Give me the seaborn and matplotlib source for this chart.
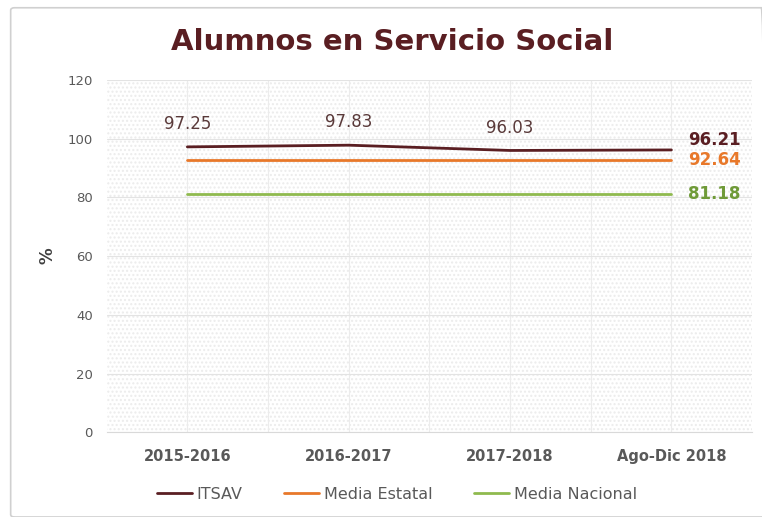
import pandas as pd
import seaborn as sns
import matplotlib.pyplot as plt
from matplotlib.patches import Rectangle, FancyBboxPatch

periodos = ["2015-2016", "2016-2017", "2017-2018", "Ago-Dic 2018"]
itsav = [97.25, 97.83, 96.03, 96.21]
media_estatal = [92.64, 92.64, 92.64, 92.64]
media_nacional = [81.18, 81.18, 81.18, 81.18]

series = ["ITSAV", "Media Estatal", "Media Nacional"]
colores = ["#5a1e22", "#e8782a", "#8fba4e"]
colores_texto = ["#5a1e22", "#e8782a", "#6f9a38"]

df = pd.DataFrame({
    "periodo": periodos * 3,
    "x": list(range(len(periodos))) * 3,
    "valor": itsav + media_estatal + media_nacional,
    "serie": [s for s in series for _ in periodos],
})

sns.set_style("white")
plt.rcParams['font.family'] = ['DejaVu Sans']

fig = plt.figure(figsize=(7.62, 5.17), dpi=100)
ax = fig.add_axes([0.140, 0.164, 0.847, 0.681])

# marco exterior
fig.patches.append(FancyBboxPatch((0.014, 0.0), 0.99, 0.985, boxstyle="round,pad=0,rounding_size=0.005",
                                  transform=fig.transFigure, fill=False, edgecolor="#d0d0d0", lw=1.2))

# fondo punteado
ax.add_patch(Rectangle((-0.5, 0), 4, 120, facecolor="white", hatch="....", edgecolor="#ececec",
                       lw=0, zorder=0))

sns.lineplot(data=df, x="x", y="valor", hue="serie", palette=colores, linewidth=2.0, ax=ax, zorder=3)

ax.set_xlim(-0.5, 3.5)
ax.set_ylim(0, 120)
ax.set_yticks(range(0, 121, 20))
ax.set_xticks(range(len(periodos)))
ax.set_xticklabels(periodos, fontsize=10.5, fontweight="bold", color="#595959")
ax.set_xticks([i + 0.5 for i in range(len(periodos) - 1)], minor=True)
ax.tick_params(axis="y", labelsize=9.5, labelcolor="#595959", length=0, pad=10)
ax.tick_params(axis="x", which="both", length=0, pad=12)
ax.grid(axis="y", color="#e3e3e3", lw=0.8)
ax.grid(axis="x", which="both", color="#ececec", lw=0.8)
ax.set_axisbelow(True)
ax.set_xlabel("")
ax.set_ylabel("%", fontsize=12, fontweight="bold", color="#404040", labelpad=8)
for s in ["top", "right", "left"]:
    ax.spines[s].set_visible(False)
ax.spines["bottom"].set_color("#d9d9d9")

# etiquetas de datos
for i in range(3):
    ax.annotate(f"{itsav[i]:.2f}", (i, itsav[i]), xytext=(0, 10), textcoords="offset points",
                ha="center", va="bottom", fontsize=12, color="#5a3a3a")
finales = [itsav[-1], media_estatal[-1], media_nacional[-1]]
desfase = [7, 0, 0]
for v, c, d in zip(finales, colores_texto, desfase):
    ax.annotate(f"{v:.2f}", (3, v), xytext=(12, d), textcoords="offset points",
                ha="left", va="center", fontsize=12, fontweight="bold", color=c, annotation_clip=False)

fig.text(0.515, 0.918, "Alumnos en Servicio Social", ha="center", va="center",
         fontsize=21, fontweight="bold", color="#5a1e22")

ax.legend(title=None, loc="upper center", bbox_to_anchor=(0.45, -0.115), ncol=3, frameon=False,
          fontsize=11.5, handlelength=2.2, columnspacing=2.6, handletextpad=0.3, labelcolor="#595959")

fig.savefig("out.png", dpi=100)
